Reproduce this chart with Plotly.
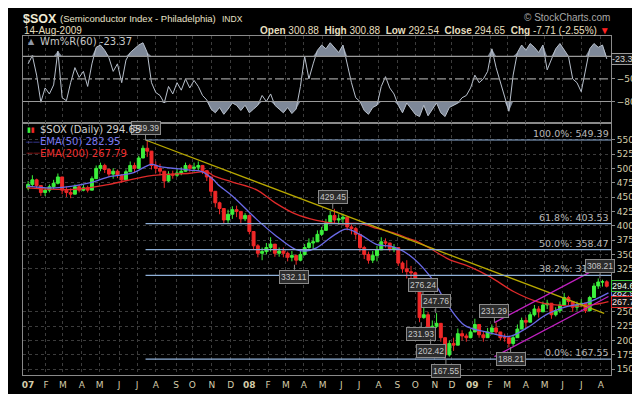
import plotly.graph_objects as go
import pandas as pd
import numpy as np

# ---------------- DATA ----------------
weeks = pd.date_range("2007-01-03", "2009-08-12", freq="W-WED")  # weekly candles
first_open = 466
highs = [478, 488, 482, 470, 466, 472, 480, 491, 485, 468, 465, 472, 472, 472, 470, 486, 505, 510, 508, 500,
         500, 498, 490, 498, 512, 510, 522, 540, 549.39, 528, 512, 508, 495, 495, 496, 500, 502, 510, 508, 510,
         512, 506, 497, 485, 455, 442, 425, 428, 434, 435, 425, 422,
         418, 385, 368, 362, 370, 380, 368, 362, 362, 355, 356, 350, 356, 368, 378, 380, 392, 398, 412, 425,
         429.45, 420, 421, 412, 402, 398, 375, 365, 355, 356, 365, 380, 378, 368, 368, 360, 338, 340, 330, 320,
         290, 276.24, 250, 235, 247.76, 228, 205, 200, 205, 221, 218, 212, 220,
         238, 228, 215, 222, 228, 231.29, 215, 212, 205, 210, 228, 240, 240, 250, 262, 260, 268, 271, 262, 258,
         268, 283, 278, 268, 268, 272, 262, 278, 300, 308.21, 306, 305]
lows = [462, 468, 465, 452, 452, 458, 464, 472, 455, 450, 448, 455, 458, 460, 458, 465, 485, 495, 492, 485,
        482, 483, 475, 478, 494, 492, 505, 518, 520, 498, 492, 488, 466, 476, 482, 485, 488, 494, 494, 494,
        496, 490, 478, 452, 432, 420, 403, 405, 412, 415, 405, 408,
        385, 358, 345, 340, 350, 355, 346, 346, 345, 338, 338, 332.11, 338, 348, 360, 358, 375, 382, 395, 405,
        405, 402, 405, 392, 385, 376, 355, 342, 334, 335, 338, 358, 362, 355, 354, 330, 318, 308, 305, 290,
        231.93, 238, 205, 202.42, 222, 198, 167.55, 172, 182, 195, 200, 198, 204,
        215, 205, 198, 205, 210, 210, 200, 198, 188.21, 190, 205, 220, 222, 232, 242, 240, 250, 255, 238, 242,
        248, 262, 262, 250, 252, 258, 248, 255, 275, 290, 294, 292.54]
closes = [472, 480, 470, 458, 462, 468, 474, 485, 462, 458, 455, 468, 462, 466, 462, 482, 500, 505, 498, 490,
          495, 488, 480, 494, 505, 500, 518, 535, 530, 505, 500, 495, 478, 490, 488, 492, 495, 505, 500, 502,
          505, 496, 485, 460, 440, 430, 410, 420, 428, 425, 412, 418,
          390, 365, 352, 355, 362, 368, 352, 356, 352, 345, 348, 340, 350, 362, 370, 372, 385, 392, 405, 418,
          410, 412, 415, 398, 395, 385, 362, 350, 340, 348, 358, 372, 370, 360, 362, 335, 325, 320, 318, 300,
          240, 245, 215, 225, 230, 205, 175, 195, 192, 212, 208, 205, 215,
          228, 210, 205, 215, 222, 215, 205, 205, 195, 205, 220, 235, 232, 245, 255, 250, 262, 265, 245, 252,
          262, 275, 268, 258, 262, 265, 252, 275, 295, 302, 302.36, 294.65]
opens = [first_open] + closes[:-1]

willr = [-30, -19, -45, -81, -62, -70, -58, -13, -75, -79, -55, -35, -48, -40, -60, -30, -8, -5, -12, -22,
         -40, -30, -55, -25, -15, -10, -5, -2, -15, -55, -68, -72, -82, -60, -70, -55, -65, -50, -62, -52,
         -60, -72, -78, -90, -95, -88, -97, -90, -82, -85, -92, -85,
         -95, -90, -85, -72, -80, -70, -85, -90, -95, -88, -96, -90, -60, -20, -50, -30, -12, -5, -10, -2,
         -8, -15, -5, -30, -55, -75, -80, -92, -97, -88, -85, -60, -47, -62, -70, -85, -95, -82, -90, -97,
         -100, -85, -99, -90, -82, -95, -100, -88, -85, -82, -75, -72, -62,
         -45, -55, -50, -40, -10, -35, -55, -75, -93, -45, -15, -5, -12, -3, -8, -15, -5, -38, -25, -10,
         -3, -12, -20, -50, -55, -67, -40, -10, -3, -8, -5, -23.37]

ema50_dates = ["2007-01-02", "2007-02-15", "2007-04-13", "2007-05-18", "2007-06-22", "2007-07-25",
               "2007-08-08", "2007-09-26", "2007-10-17", "2007-11-05", "2007-11-12", "2007-12-05",
               "2008-01-14", "2008-02-13", "2008-03-18", "2008-04-03", "2008-04-22", "2008-05-21",
               "2008-06-10", "2008-07-03", "2008-07-30", "2008-08-21", "2008-09-19", "2008-10-27",
               "2008-11-25", "2008-12-22", "2009-01-26", "2009-03-02", "2009-03-12", "2009-04-06",
               "2009-05-06", "2009-06-10", "2009-07-10", "2009-08-14"]
ema50_vals = [469, 466, 474.6, 486, 491.5, 507, 503, 497, 494, 480, 472, 452, 412, 384, 359, 356, 361.5,
              384, 394, 384, 367, 364.4, 350, 311, 260, 226.5, 215, 207, 209.6, 223.7, 246, 260, 266, 282.95]

ema200_dates = ["2007-01-02", "2007-03-20", "2007-05-15", "2007-07-03", "2007-07-27", "2007-09-26",
                "2007-10-24", "2007-11-05", "2007-12-05", "2008-01-14", "2008-02-13", "2008-03-18",
                "2008-04-22", "2008-05-28", "2008-07-03", "2008-07-30", "2008-08-28", "2008-09-19",
                "2008-10-01", "2008-10-27", "2008-11-25", "2008-12-31", "2009-02-02", "2009-03-12",
                "2009-04-20", "2009-05-20", "2009-06-30", "2009-07-20", "2009-08-14"]
ema200_vals = [466, 463.4, 471.8, 483, 487.6, 491.5, 494, 487, 476, 462.8, 440.3, 420.6, 409.4, 403.7,
               403.7, 395.3, 386.9, 378, 374, 360, 342, 328, 311, 285, 268, 262, 260, 262, 267.79]

fib_names = ["100.0%", "61.8%", "50.0%", "38.2%", "0.0%"]
fib_vals = [549.39, 403.53, 358.47, 313.41, 167.55]
fib_start = "2007-07-16"

trend_dates = ["2007-07-16", "2009-08-07"]
trend_vals = [549.39, 247.4]
chan_dates = ["2009-02-09", "2009-08-14"]
chan_upper = [231.29, 336.2]
chan_lower = [171.9, 276.8]

label_dates = ["2007-07-16", "2008-03-17", "2008-05-19", "2008-10-10", "2008-10-14", "2008-10-27",
               "2008-11-04", "2008-11-20", "2009-02-09", "2009-03-06", "2009-07-31"]
label_vals = [549.39, 332.11, 429.45, 231.93, 276.24, 202.42, 247.76, 167.55, 231.29, 188.21, 308.21]
label_above = [True, False, True, False, True, False, True, False, True, False, True]

month_ticks = ["2007-01-03", "2007-02-01", "2007-03-01", "2007-04-02", "2007-05-01", "2007-06-01",
               "2007-07-02", "2007-08-01", "2007-09-04", "2007-10-01", "2007-11-01", "2007-12-03",
               "2008-01-02", "2008-02-01", "2008-03-03", "2008-04-01", "2008-05-01", "2008-06-02",
               "2008-07-01", "2008-08-01", "2008-09-02", "2008-10-01", "2008-11-03", "2008-12-01",
               "2009-01-02", "2009-02-02", "2009-03-02", "2009-04-01", "2009-05-01", "2009-06-01",
               "2009-07-01", "2009-08-03"]
month_text = ["<b>07</b>", "F", "M", "A", "M", "J", "J", "A", "S", "O", "N", "D",
              "<b>08</b>", "F", "M", "A", "M", "J", "J", "A", "S", "O", "N", "D",
              "<b>09</b>", "F", "M", "A", "M", "J", "J", "A"]
price_ticks = [150, 175, 200, 225, 250, 325, 350, 375, 400, 425, 450, 475, 500, 525, 550]

last_close, last_ema50, last_ema200, last_willr = 294.65, 282.95, 267.79, -23.37

# ---------------- STYLE / LAYOUT ----------------
W, H = 640, 394
ML, MR, MT, MB = 15, 35, 28, 16
PW, PH = W - ML - MR, H - MT - MB
SPLIT = (378 - 118) / PH
FONT = "DejaVu Sans"
HFONT = "Liberation Sans"
TXT = "#e6dfbf"
TICK = "#d4ccaa"
GRID = "#3c3c3c"
BORDER = "#8a8a8a"
GREEN, RED = "#3cf03c", "#f02828"
BLUE_EMA, RED_EMA = "#6a6ae8", "#e02a2a"


def fx(px):
    return (px - ML) / PW


def fy(py):
    return (H - MB - py) / PH


fig = go.Figure()

# Williams %R panel
wr = np.array(willr, dtype=float)
fig.add_trace(go.Scatter(x=weeks, y=np.full(len(wr), -20.0), mode="lines", line=dict(width=0),
                         hoverinfo="skip", showlegend=False, xaxis="x2", yaxis="y2"))
fig.add_trace(go.Scatter(x=weeks, y=np.maximum(wr, -20), mode="lines", line=dict(width=0),
                         fill="tonexty", fillcolor="#7e8898", hoverinfo="skip", showlegend=False,
                         xaxis="x2", yaxis="y2"))
fig.add_trace(go.Scatter(x=weeks, y=np.full(len(wr), -80.0), mode="lines", line=dict(width=0),
                         hoverinfo="skip", showlegend=False, xaxis="x2", yaxis="y2"))
fig.add_trace(go.Scatter(x=weeks, y=np.minimum(wr, -80), mode="lines", line=dict(width=0),
                         fill="tonexty", fillcolor="#7e8898", hoverinfo="skip", showlegend=False,
                         xaxis="x2", yaxis="y2"))
fig.add_trace(go.Scatter(x=weeks, y=wr, mode="lines", line=dict(color="#b8c0cc", width=1),
                         showlegend=False, xaxis="x2", yaxis="y2"))

# price candles
fig.add_trace(go.Candlestick(x=weeks, open=opens, high=highs, low=lows, close=closes,
                             increasing=dict(line=dict(color=GREEN, width=1), fillcolor=GREEN),
                             decreasing=dict(line=dict(color=RED, width=1), fillcolor=RED),
                             whiskerwidth=0, showlegend=False, xaxis="x", yaxis="y"))
fig.add_trace(go.Scatter(x=ema200_dates, y=ema200_vals, mode="lines", line=dict(color=RED_EMA, width=1.3),
                         showlegend=False, line_shape="spline"))
fig.add_trace(go.Scatter(x=ema50_dates, y=ema50_vals, mode="lines", line=dict(color=BLUE_EMA, width=1.3),
                         showlegend=False, line_shape="spline"))
fig.add_trace(go.Scatter(x=trend_dates, y=trend_vals, mode="lines", line=dict(color="#b8a800", width=1.3),
                         showlegend=False))
fig.add_trace(go.Scatter(x=chan_dates, y=chan_upper, mode="lines", line=dict(color="#c020c0", width=1.3),
                         showlegend=False))
fig.add_trace(go.Scatter(x=chan_dates, y=chan_lower, mode="lines", line=dict(color="#c020c0", width=1.3),
                         showlegend=False))

x_end = "2009-08-19"
shapes = []
for v in fib_vals:
    shapes.append(dict(type="line", xref="x", yref="y", x0=fib_start, x1=x_end, y0=v, y1=v,
                       line=dict(color="#8fb0d8", width=1.2)))
for v, dash in [(-20, "solid"), (-50, "dashdot"), (-80, "solid")]:
    shapes.append(dict(type="line", xref="paper", yref="y2", x0=0, x1=1, y0=v, y1=v,
                       line=dict(color="#9a9a9a", width=1.2, dash=dash)))
fig.update_layout(shapes=shapes)

ann = []
small = dict(family=HFONT, size=8.5, color="#c8c8c8")
for nm, v in zip(fib_names, fib_vals):
    ann.append(dict(xref="paper", yref="y", x=1.0, y=v, text=f"{nm}: {v:.2f}", showarrow=False,
                    xanchor="right", yanchor="bottom", yshift=-1,
                    font=dict(family=FONT, size=9.5, color="#b8b8b8")))
for d, v, up in zip(label_dates, label_vals, label_above):
    ann.append(dict(xref="x", yref="y", x=d, y=v, text=f"{v:.2f}", showarrow=True, arrowhead=0,
                    arrowwidth=1, arrowcolor="#8a8a8a", ax=0, ay=-5 if up else 5,
                    yanchor="bottom" if up else "top", font=small, bgcolor="#2c2c2c",
                    bordercolor="#8a8a8a", borderwidth=1, borderpad=1))

# right-side value boxes (EMA50 box beneath the others, as in the reference)
for v, col, tc in [(last_ema50, "#6a6ae8", "#e0e0ff"), (last_close, "#3cc83c", "#eaffea"),
                   (last_ema200, "#e02a2a", "#ffe0e0")]:
    ann.append(dict(xref="paper", yref="y", x=1.0, y=v, text=f"{v:.2f}", showarrow=False, xanchor="left",
                    xshift=0, font=dict(family=HFONT, size=9, color=tc), bgcolor="#101010",
                    bordercolor=col, borderwidth=1, borderpad=0))
ann.append(dict(xref="paper", yref="y2", x=1.0, y=last_willr, text=f"{last_willr:.2f}", showarrow=False,
                xanchor="left", xshift=0, font=dict(family=HFONT, size=9, color="#d8d8d8"),
                bgcolor="#101010", bordercolor="#9a9a9a", borderwidth=1, borderpad=0))

# legends inside panels
ann.append(dict(xref="paper", yref="paper", x=fx(30), y=fy(34), text=f"Wm%R(60) {last_willr:.2f}",
                showarrow=False, xanchor="left", yanchor="middle",
                font=dict(family=FONT, size=10, color="#c8c8c8")))
ann.append(dict(xref="paper", yref="paper", x=fx(18), y=fy(34), text="▲", showarrow=False,
                xanchor="left", yanchor="middle", font=dict(family=FONT, size=8, color="#8e98a8")))
ann.append(dict(xref="paper", yref="paper", x=fx(30), y=fy(125), text=f"$SOX (Daily) {last_close:.2f}",
                showarrow=False, xanchor="left", yanchor="middle",
                font=dict(family=FONT, size=10, color="#d0d0d0")))
ann.append(dict(xref="paper", yref="paper", x=fx(17), y=fy(125),
                text="<span style='color:#3cf03c'>▮</span><span style='color:#f02828'>▮</span>",
                showarrow=False, xanchor="left", yanchor="middle", font=dict(family=FONT, size=7)))
ann.append(dict(xref="paper", yref="paper", x=fx(30), y=fy(137), text=f"EMA(50) {last_ema50:.2f}",
                showarrow=False, xanchor="left", yanchor="middle",
                font=dict(family=FONT, size=10, color="#7878f0")))
ann.append(dict(xref="paper", yref="paper", x=fx(30), y=fy(149), text=f"EMA(200) {last_ema200:.2f}",
                showarrow=False, xanchor="left", yanchor="middle",
                font=dict(family=FONT, size=10, color="#f03030")))
for py, col in [(137, BLUE_EMA), (149, RED_EMA)]:
    ann.append(dict(xref="paper", yref="paper", x=fx(16), y=fy(py), text="——", showarrow=False,
                    xanchor="left", yanchor="middle", font=dict(family=FONT, size=7, color=col)))

# header
ann.append(dict(xref="paper", yref="paper", x=fx(13), y=fy(10), text="<b>$SOX</b>", showarrow=False,
                xanchor="left", yanchor="middle", font=dict(family=HFONT, size=12.5, color="#f0ead4")))
ann.append(dict(xref="paper", yref="paper", x=fx(50), y=fy(10), text="(Semiconductor Index - Philadelphia)",
                showarrow=False, xanchor="left", yanchor="middle",
                font=dict(family=HFONT, size=9.5, color="#e8e2c8")))
ann.append(dict(xref="paper", yref="paper", x=fx(213), y=fy(10), text="INDX",
                showarrow=False, xanchor="left", yanchor="middle",
                font=dict(family=HFONT, size=8.5, color="#e8e2c8")))
ann.append(dict(xref="paper", yref="paper", x=fx(14), y=fy(22), text="14-Aug-2009",
                showarrow=False, xanchor="left", yanchor="middle", font=dict(family=HFONT, size=10, color=TXT)))
ann.append(dict(xref="paper", yref="paper", x=fx(606), y=fy(22),
                text="<b>Open</b> 300.88  <b>High</b> 300.88  <b>Low</b> 292.54  <b>Close</b> 294.65  "
                     "<b>Chg</b> -7.71 (-2.55%) <span style='color:#ff2020'>▼</span>",
                showarrow=False, xanchor="right", yanchor="middle",
                font=dict(family=HFONT, size=10, color=TXT)))
ann.append(dict(xref="paper", yref="paper", x=fx(606), y=fy(9), text="© StockCharts.com",
                showarrow=False, xanchor="right", yanchor="middle",
                font=dict(family=HFONT, size=10, color="#a8a8a8")))

fig.update_layout(annotations=ann)

xcommon = dict(type="date", range=["2006-12-26", x_end], rangebreaks=[dict(bounds=["sat", "mon"])],
               tickvals=month_ticks, showgrid=True, gridcolor=GRID, griddash="dot", gridwidth=1,
               showline=True, linecolor=BORDER, mirror=True, zeroline=False, rangeslider=dict(visible=False),
               fixedrange=True)
fig.update_layout(
    width=W, height=H, margin=dict(l=ML, r=MR, t=MT, b=MB),
    paper_bgcolor="black", plot_bgcolor="black", showlegend=False,
    xaxis=dict(**xcommon, ticktext=month_text, tickfont=dict(family=FONT, size=9, color=TICK),
               anchor="y", ticks="", ticklabelstandoff=1),
    xaxis2=dict(**xcommon, matches="x", showticklabels=False, anchor="y2"),
    yaxis=dict(domain=[0, SPLIT], range=[140, 578.7], side="right", tickvals=price_ticks,
               tickfont=dict(family=FONT, size=9, color=TICK), showgrid=True, gridcolor=GRID,
               griddash="dot", showline=True, linecolor=BORDER, mirror=True, zeroline=False,
               ticks="outside", ticklen=3, tickcolor=BORDER),
    yaxis2=dict(domain=[SPLIT, 1], range=[-108.8, 7], side="right", tickvals=[-50, -80],
                tickfont=dict(family=FONT, size=9, color=TICK), showgrid=False, showline=True,
                linecolor=BORDER, mirror=True, zeroline=False, ticks="outside", ticklen=3, tickcolor=BORDER),
)

fig.write_html("out.html")
